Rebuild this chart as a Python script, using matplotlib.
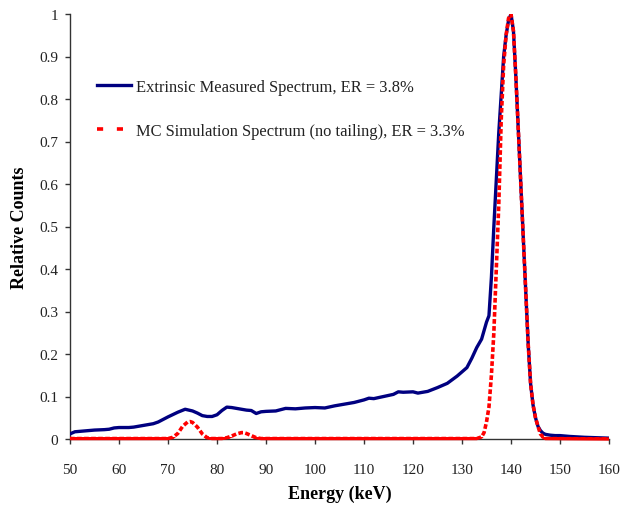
import matplotlib
matplotlib.use("Agg")
import matplotlib.pyplot as plt
from matplotlib.patches import Rectangle

# Measured spectrum (blue)
meas_e = [50, 51, 53, 55, 57, 58, 59, 60, 62, 63, 65, 67, 68, 70, 72, 73.5, 75, 76, 77, 78, 79, 80,
          81, 82, 83, 85, 86, 87, 88, 89, 90, 92, 94, 96, 98, 100, 102, 104, 106, 108, 110, 111,
          112, 114, 116, 117, 118, 120, 121, 123, 125, 127, 129, 130, 131, 132, 133, 134, 134.5,
          135, 135.5, 136, 136.5, 137, 137.5, 138, 138.5, 139, 139.5, 140, 140.5, 141, 141.5, 142,
          142.5, 143, 143.5, 144, 144.5, 145, 145.5, 146, 146.5, 147, 148, 149, 150, 152, 155, 160]
meas_c = [0.012, 0.017, 0.019, 0.021, 0.022, 0.023, 0.026, 0.027, 0.027, 0.028, 0.032, 0.036, 0.040,
          0.052, 0.063, 0.070, 0.066, 0.061, 0.055, 0.053, 0.053, 0.057, 0.067, 0.075, 0.074, 0.070,
          0.068, 0.067, 0.060, 0.064, 0.065, 0.066, 0.072, 0.071, 0.073, 0.074, 0.073, 0.078, 0.082,
          0.086, 0.092, 0.096, 0.095, 0.100, 0.105, 0.111, 0.110, 0.111, 0.108, 0.112, 0.121, 0.131,
          0.148, 0.158, 0.168, 0.19, 0.215, 0.235, 0.255, 0.275, 0.29, 0.38, 0.5, 0.61, 0.72, 0.81,
          0.90, 0.95, 0.985, 1.0, 0.96, 0.85, 0.725, 0.60, 0.475, 0.35, 0.225, 0.13, 0.08, 0.05,
          0.03, 0.02, 0.014, 0.011, 0.009, 0.008, 0.008, 0.006, 0.004, 0.002]

# MC simulation spectrum (red)
sim_e = [50, 70, 71, 72, 73, 74, 74.5, 75, 76, 77, 78, 79, 81, 82, 83, 84, 85, 85.5, 86, 87, 88, 89,
         90, 133, 134, 134.5, 135, 135.5, 136, 136.5, 137, 137.5, 138, 138.5, 139, 139.5, 140, 140.5,
         141, 141.5, 142, 142.5, 143, 143.5, 144, 144.5, 145, 145.5, 146, 146.5, 147, 160]
sim_c = [0.001, 0.001, 0.004, 0.013, 0.030, 0.040, 0.041, 0.039, 0.028, 0.012, 0.003, 0.001, 0.001,
         0.003, 0.007, 0.012, 0.015, 0.015, 0.013, 0.008, 0.003, 0.001, 0.001, 0.001, 0.005, 0.015,
         0.04, 0.075, 0.15, 0.25, 0.40, 0.55, 0.75, 0.88, 0.95, 0.99, 1.0, 0.96, 0.85, 0.725, 0.60,
         0.475, 0.35, 0.225, 0.13, 0.08, 0.05, 0.03, 0.012, 0.005, 0.001, 0.0]

labels = ["Extrinsic Measured Spectrum, ER = 3.8%", "MC Simulation Spectrum (no tailing), ER = 3.3%"]
x_ticks = list(range(50, 161, 10))
y_ticks = [0, 0.1, 0.2, 0.3, 0.4, 0.5, 0.6, 0.7, 0.8, 0.9, 1]
y_tick_labels = ["0", "0.1", "0.2", "0.3", "0.4", "0.5", "0.6", "0.7", "0.8", "0.9", "1"]

plt.rcParams['font.family'] = ['Liberation Serif', 'DejaVu Serif']

fig = plt.figure(figsize=(6.21, 5.06), dpi=100)
ax = fig.add_axes([70/621, 1-440/506, (609-70)/621, (440-15)/506])

ax.plot(meas_e, meas_c, color='#000080', lw=2.4, label=labels[0], zorder=3)
red, = ax.plot(sim_e, sim_c, color='#ff0000', lw=2.6, dashes=(1.3, 0.65), label=labels[1], zorder=4)
# near-zero baseline of the simulated spectrum renders as a continuous line
base, = ax.plot(sim_e, sim_c, color='#ff0000', lw=2.4, solid_capstyle='butt', zorder=4)
clip = Rectangle((50, -0.05), 110, 0.0545, transform=ax.transData)
base.set_clip_path(clip)
base.set_clip_on(True)

ax.set_xlim(50, 160)
ax.set_ylim(0, 1)
ax.set_xticks(x_ticks)
ax.set_yticks(y_ticks)
ax.set_yticklabels(y_tick_labels)
for s in ['top', 'right']:
    ax.spines[s].set_visible(False)
for s in ['left', 'bottom']:
    ax.spines[s].set_color('#333333')
    ax.spines[s].set_linewidth(1.0)
ax.tick_params(axis='x', direction='out', length=3.6, width=1, pad=13.5, labelsize=11, colors='#333333')
ax.tick_params(axis='y', direction='out', length=3.6, width=1, pad=5, labelsize=11, colors='#333333')
for t in ax.get_xticklabels() + ax.get_yticklabels():
    t.set_color('#222222')

ax.set_xlabel("Energy (keV)", fontsize=13, fontweight='bold', labelpad=6.5)
ax.set_ylabel("Relative Counts", fontsize=13, fontweight='bold', labelpad=8)

leg = ax.legend(handles=[ax.lines[0], red], loc='upper left', bbox_to_anchor=(97/621, 1-80/506),
                bbox_transform=fig.transFigure, frameon=False, fontsize=11.9, handlelength=2.05,
                handletextpad=0.3, labelspacing=1.7, borderpad=0, borderaxespad=0)
leg.get_lines()[1].set_dashes((1.7, 3.8))
for t in leg.get_texts():
    t.set_color('#222222')

fig.savefig("out.png", dpi=100)
